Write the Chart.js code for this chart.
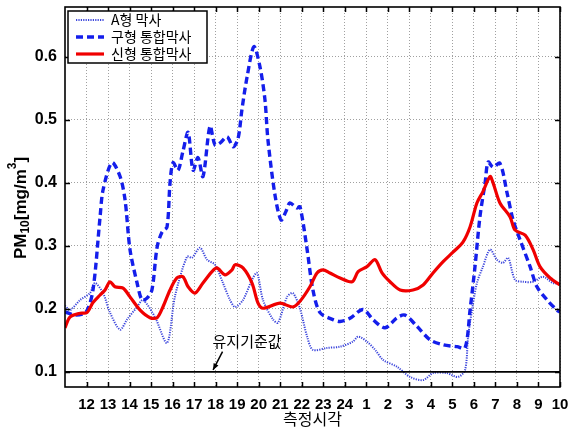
<!DOCTYPE html>
<html>
<head>
<meta charset="utf-8">
<script src="https://cdn.jsdelivr.net/npm/chart.js@4.4.0/dist/chart.umd.min.js"></script>
<style>
html,body{margin:0;padding:0;background:#fff;}
#wrap{width:569px;height:430px;}
</style>
</head>
<body>
<div id="wrap"><canvas id="c" width="569" height="430"></canvas></div>
<script>
// ---- data (x = hours after 11:00 start; tick labels below) ----
const hourLabels = ['12','13','14','15','16','17','18','19','20','21','22','23','24','1','2','3','4','5','6','7','8','9','10'];
const yTickValues = [0.1, 0.2, 0.3, 0.4, 0.5, 0.6];
const thresholdValue = 0.1;
const thresholdLabel = '유지기준값';
const xTitle = '측정시각';
const seriesNames = ['A형 막사', '구형 통합막사', '신형 통합막사'];

const aTimes = [0,0.23,0.70,1.16,1.39,1.77,2.09,2.56,2.88,3.35,3.62,4.18,4.74,5.11,5.67,5.90,6.27,6.60,6.97,7.34,7.67,7.90,8.27,8.69,8.92,9.20,9.67,9.90,10.32,10.59,10.92,11.25,11.52,12.17,12.78,13.38,13.62,14.03,14.41,14.78,15.43,16.03,16.64,17.10,17.75,18.26,18.59,18.73,18.91,19.14,19.42,19.75,20.07,20.35,20.59,20.91,21.28,21.75,22.21,22.68,23];
const aValues = [0.205,0.198,0.214,0.225,0.241,0.225,0.194,0.167,0.183,0.203,0.214,0.187,0.146,0.22,0.283,0.281,0.297,0.278,0.27,0.241,0.214,0.203,0.214,0.246,0.257,0.214,0.183,0.178,0.219,0.225,0.2,0.156,0.135,0.138,0.14,0.148,0.156,0.148,0.135,0.119,0.108,0.092,0.087,0.098,0.098,0.092,0.103,0.156,0.198,0.241,0.267,0.294,0.278,0.273,0.281,0.246,0.243,0.243,0.251,0.241,0.24];

const oldTimes = [0,0.51,0.98,1.30,1.63,1.77,2.18,2.56,2.79,3.02,3.35,3.58,3.81,4.04,4.28,4.51,4.74,4.88,5.02,5.25,5.48,5.72,5.95,6.18,6.41,6.74,6.97,7.20,7.53,7.81,8.04,8.22,8.46,8.78,9.06,9.29,9.43,9.76,10.04,10.27,10.45,10.78,10.92,11.25,11.52,11.85,12.45,12.78,13.24,13.85,14.31,14.87,15.43,15.80,16.36,16.96,17.57,18.22,18.59,18.82,19.05,19.28,19.52,19.66,19.89,20.21,20.54,20.82,21.14,21.61,21.93,22.40,22.86,23];
const oldValues = [0.195,0.19,0.195,0.23,0.346,0.389,0.432,0.41,0.373,0.294,0.241,0.214,0.217,0.23,0.298,0.322,0.33,0.40,0.432,0.42,0.45,0.48,0.42,0.44,0.41,0.49,0.46,0.463,0.473,0.457,0.47,0.516,0.568,0.616,0.584,0.532,0.468,0.38,0.341,0.355,0.368,0.36,0.362,0.294,0.23,0.194,0.183,0.18,0.185,0.199,0.183,0.17,0.186,0.19,0.172,0.151,0.143,0.14,0.138,0.198,0.267,0.346,0.40,0.433,0.425,0.431,0.384,0.341,0.31,0.267,0.235,0.214,0.198,0.195];

const newTimes = [0,0.23,0.70,1.02,1.30,1.63,1.86,2.09,2.32,2.70,3.02,3.49,3.95,4.28,4.55,4.88,5.20,5.48,5.72,6.04,6.41,6.83,7.06,7.43,7.76,7.90,8.27,8.69,8.97,9.20,9.99,10.59,10.92,11.38,11.71,11.99,12.31,12.78,13.34,13.62,14.03,14.41,14.73,15.10,15.57,16.17,16.64,17.10,17.57,18.03,18.49,18.82,19.14,19.42,19.75,19.89,20.21,20.68,20.91,21.38,21.75,22.07,22.54,23];
const newValues = [0.17,0.187,0.193,0.194,0.21,0.222,0.23,0.243,0.235,0.233,0.219,0.198,0.186,0.186,0.203,0.23,0.249,0.251,0.235,0.225,0.241,0.259,0.265,0.254,0.262,0.27,0.265,0.241,0.209,0.201,0.209,0.203,0.212,0.235,0.257,0.262,0.257,0.249,0.243,0.259,0.267,0.278,0.257,0.243,0.23,0.23,0.238,0.257,0.275,0.29,0.306,0.33,0.368,0.386,0.41,0.40,0.368,0.346,0.325,0.317,0.294,0.267,0.249,0.238];

const toPoints = (ts, vs) => ts.map((t, i) => ({x: t, y: vs[i]}));

const BLUE = 'rgb(20,30,235)';
const DOT = 'rgb(60,70,220)';
const RED = 'rgb(240,0,0)';
const LAT = '"Liberation Sans", Arial, "Noto Sans CJK KR", sans-serif';
const KR = '"Noto Sans CJK KR", "Liberation Sans", sans-serif';

const datasets = [
  {label: '', data: [{x: 0, y: thresholdValue}, {x: hourLabels.length, y: thresholdValue}], borderColor: '#000', borderWidth: 1.6, pointRadius: 0, tension: 0, legend: false},
  {label: seriesNames[2], data: toPoints(newTimes, newValues), borderColor: RED, borderWidth: 3.2, pointRadius: 0, tension: 0.3, legend: true},
  {label: seriesNames[1], data: toPoints(oldTimes, oldValues), borderColor: BLUE, borderWidth: 3.4, borderDash: [7, 4], pointRadius: 0, tension: 0.3, legend: true},
  {label: seriesNames[0], data: toPoints(aTimes, aValues), borderColor: DOT, borderWidth: 2, borderDash: [1.2, 1.2], pointRadius: 0, tension: 0.3, legend: true}
];

const decor = {
  id: 'decor',
  afterDraw(chart) {
    const ctx = chart.ctx, a = chart.chartArea, xs = chart.scales.x, ys = chart.scales.y;
    ctx.save();
    // ticks inward
    ctx.strokeStyle = '#000'; ctx.lineWidth = 1.5; ctx.setLineDash([]);
    xs.ticks.forEach(t => {
      const px = Math.round(xs.getPixelForValue(t.value)) + 0.5;
      ctx.beginPath(); ctx.moveTo(px, a.bottom); ctx.lineTo(px, a.bottom - 5);
      ctx.moveTo(px, a.top); ctx.lineTo(px, a.top + 5); ctx.stroke();
    });
    ys.ticks.forEach(t => {
      const py = Math.round(ys.getPixelForValue(t.value)) + 0.5;
      ctx.beginPath(); ctx.moveTo(a.left, py); ctx.lineTo(a.left + 5, py);
      ctx.moveTo(a.right, py); ctx.lineTo(a.right - 5, py); ctx.stroke();
    });
    // box
    ctx.lineWidth = 1.6;
    ctx.strokeRect(a.left, a.top, a.right - a.left, a.bottom - a.top);

    // x title
    ctx.fillStyle = '#000';
    ctx.font = '16px ' + KR;
    ctx.textAlign = 'center'; ctx.textBaseline = 'middle';
    ctx.fillText(xTitle, (a.left + a.right) / 2, 419);

    // y title with sub/superscript
    ctx.save();
    ctx.translate(21, 208);
    ctx.rotate(-Math.PI / 2);
    const big = 'bold 17px ' + LAT, small = 'bold 12px ' + LAT;
    const parts = [['PM', big, 0], ['10', small, 5], ['[mg/m', big, 0], ['3', small, -8], [']', big, 0]];
    let total = 0;
    parts.forEach(p => { ctx.font = p[1]; total += ctx.measureText(p[0]).width; });
    let cx = -total / 2;
    ctx.textAlign = 'left'; ctx.textBaseline = 'middle';
    parts.forEach(p => { ctx.font = p[1]; ctx.fillText(p[0], cx, p[2]); cx += ctx.measureText(p[0]).width; });
    ctx.restore();

    // annotation
    const tipX = xs.getPixelForValue(6.88), tipY = ys.getPixelForValue(thresholdValue) - 2;
    const tailX = xs.getPixelForValue(7.32), tailY = ys.getPixelForValue(0.132);
    ctx.strokeStyle = '#000'; ctx.lineWidth = 1.5;
    ctx.beginPath(); ctx.moveTo(tailX, tailY); ctx.lineTo(tipX, tipY); ctx.stroke();
    const ang = Math.atan2(tipY - tailY, tipX - tailX);
    ctx.beginPath();
    ctx.moveTo(tipX, tipY);
    ctx.lineTo(tipX - 7 * Math.cos(ang - 0.4), tipY - 7 * Math.sin(ang - 0.4));
    ctx.lineTo(tipX - 7 * Math.cos(ang + 0.4), tipY - 7 * Math.sin(ang + 0.4));
    ctx.closePath(); ctx.fill();
    ctx.font = '15px ' + KR;
    ctx.textAlign = 'center'; ctx.textBaseline = 'middle';
    ctx.fillText(thresholdLabel, xs.getPixelForValue(8.46), ys.getPixelForValue(0.149));

    // legend
    const lx = 68, ly = 11, lw = 139, lh = 52;
    ctx.fillStyle = '#fff';
    ctx.fillRect(lx, ly, lw, lh);
    ctx.strokeStyle = '#000'; ctx.lineWidth = 1.5;
    ctx.strokeRect(lx, ly, lw, lh);
    const items = chart.data.datasets.filter(d => d.legend).slice().reverse();
    items.forEach((d, i) => {
      const y = ly + 9 + i * 17;
      ctx.strokeStyle = d.borderColor; ctx.lineWidth = d.borderWidth;
      ctx.setLineDash(d.borderDash || []);
      ctx.beginPath(); ctx.moveTo(lx + 8, y); ctx.lineTo(lx + 36, y); ctx.stroke();
      ctx.setLineDash([]);
      ctx.fillStyle = '#000';
      ctx.font = '14px ' + KR;
      ctx.textAlign = 'left'; ctx.textBaseline = 'middle';
      ctx.fillText(d.label, lx + 43, y);
    });
    ctx.restore();
  }
};

new Chart(document.getElementById('c'), {
  type: 'line',
  data: {datasets},
  options: {
    responsive: false,
    animation: false,
    events: [],
    layout: {padding: {top: 7, right: 9, left: 0, bottom: 0}},
    plugins: {legend: {display: false}, tooltip: {enabled: false}},
    scales: {
      x: {
        type: 'linear', min: 0, max: hourLabels.length,
        afterBuildTicks: s => { s.ticks = hourLabels.map((l, i) => ({value: i + 1})); },
        afterFit: s => { s.height = 43; s.paddingLeft = 0; s.paddingRight = 0; },
        ticks: {autoSkip: false, maxRotation: 0, padding: 9, color: '#000',
          font: {family: LAT, size: 15, weight: 'bold'},
          callback: v => hourLabels[v - 1]},
        grid: {color: 'rgba(120,120,120,0.7)', lineWidth: 1, drawTicks: false},
        border: {display: false, dash: [1, 2]}
      },
      y: {
        type: 'linear', min: 0.076, max: 0.679,
        afterBuildTicks: s => { s.ticks = yTickValues.map(v => ({value: v})); },
        afterFit: s => { s.width = 65; s.paddingTop = 0; s.paddingBottom = 0; },
        ticks: {padding: 8, color: '#000', font: {family: LAT, size: 16, weight: 'bold'},
          callback: v => v.toFixed(1)},
        grid: {color: 'rgba(120,120,120,0.7)', lineWidth: 1, drawTicks: false},
        border: {display: false, dash: [1, 2]}
      }
    }
  },
  plugins: [decor]
});
</script>
</body>
</html>
